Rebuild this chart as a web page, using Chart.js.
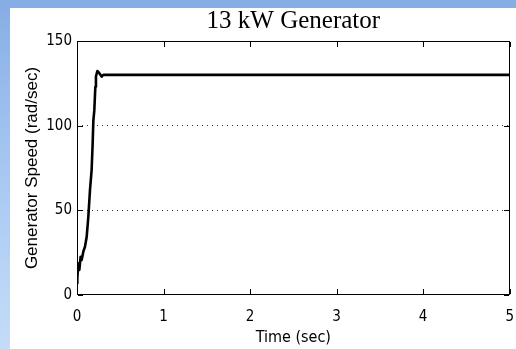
<!DOCTYPE html>
<html>
<head>
<meta charset="utf-8">
<title>13 kW Generator</title>
<script src="https://cdn.jsdelivr.net/npm/chart.js@4.4.0/dist/chart.umd.min.js"></script>
<style>
  html, body { margin: 0; padding: 0; }
  body {
    width: 516px; height: 349px; overflow: hidden; position: relative;
    background: linear-gradient(180deg, #86ade4 0%, #97bbec 25%, #aecdf4 60%, #c4dcf8 100%);
  }
  #panel {
    position: absolute; left: 10px; top: 8px;
    width: 506px; height: 341px; background: #fff;
  }
  canvas { display: block; }
</style>
</head>
<body>
<div id="panel"><canvas id="speed" width="509" height="341"></canvas></div>
<script>
'use strict';

// Generator speed run-up, time in seconds and speed in rad/sec
const timeSec = [0, 0.004, 0.015, 0.027, 0.042, 0.054, 0.073, 0.092, 0.112, 0.131,
                 0.150, 0.169, 0.181, 0.189, 0.200, 0.212, 0.219, 0.235, 0.258, 0.285,
                 0.304, 5.0];
const speedRad = [7, 10, 18.7, 14.8, 22.6, 20.7, 25.6, 28.5, 34.4, 46.2,
                  62, 73.8, 89.6, 103, 109, 123, 129, 132.3, 131, 129,
                  130, 130];

const xTicks = [0, 1, 2, 3, 4, 5];
const yTicks = [0, 50, 100, 150];

const tickFont = { family: "'Liberation Sans Narrow', 'DejaVu Sans Condensed', sans-serif", size: 15 };

// box round the plot with short inward tick marks on all four sides
const matlabFrame = {
  id: 'matlabFrame',
  afterDatasetsDraw(chart) {
    const { ctx, chartArea: a, scales } = chart;
    const L = Math.round(a.left), R = Math.round(a.right) - 1;
    const T = Math.round(a.top), B = Math.round(a.bottom) - 1;
    const len = 5;
    ctx.save();
    ctx.fillStyle = '#000';
    ctx.fillRect(L, T, R - L + 1, 1);
    ctx.fillRect(L, B, R - L + 1, 1);
    ctx.fillRect(L, T, 1, B - T + 1);
    ctx.fillRect(R, T, 1, B - T + 1);
    xTicks.forEach(v => {
      const x = Math.round(scales.x.getPixelForValue(v));
      ctx.fillRect(x, B - len, 1, len);
      ctx.fillRect(x, T + 1, 1, len);
    });
    yTicks.forEach(v => {
      const y = Math.round(scales.y.getPixelForValue(v));
      ctx.fillRect(L + 1, y, len, 1);
      ctx.fillRect(R - len, y, len, 1);
    });
    ctx.restore();
  }
};

new Chart(document.getElementById('speed'), {
  type: 'line',
  data: {
    datasets: [{
      data: timeSec.map((t, i) => ({ x: t, y: speedRad[i] })),
      borderColor: '#000',
      borderWidth: 2.6,
      borderJoinStyle: 'round',
      pointRadius: 0,
      tension: 0,
      fill: false
    }]
  },
  options: {
    responsive: false,
    animation: false,
    layout: { padding: { left: 0, right: 6, top: 0, bottom: 0 } },
    plugins: {
      legend: { display: false },
      tooltip: { enabled: false },
      title: {
        display: true,
        text: '13 kW Generator',
        fullSize: false,
        color: '#000',
        font: { family: "'Liberation Serif', 'Times New Roman', serif", size: 25, weight: 'normal', lineHeight: 1 },
        padding: { top: 1, bottom: 7 }
      }
    },
    scales: {
      x: {
        type: 'linear',
        min: 0, max: 5,
        afterFit: s => { s.height = 54; },
        afterBuildTicks: s => { s.ticks = xTicks.map(v => ({ value: v })); },
        ticks: { color: '#000', font: tickFont, padding: 5, maxRotation: 0 },
        grid: { display: false },
        border: { display: false },
        title: {
          display: true, text: 'Time (sec)', color: '#000',
          font: { family: tickFont.family, size: 16 },
          padding: { top: 0, bottom: 2 }
        }
      },
      y: {
        min: 0, max: 150,
        afterFit: s => { s.width = 67; },
        afterBuildTicks: s => { s.ticks = yTicks.map(v => ({ value: v })); },
        ticks: { color: '#000', font: tickFont, padding: 5 },
        grid: {
          drawTicks: false,
          lineWidth: 1,
          color: c => (c.tick && (c.tick.value === 50 || c.tick.value === 100)) ? '#333' : 'rgba(0,0,0,0)'
        },
        border: { display: false, dash: [1, 4] },
        title: {
          display: true, text: 'Generator Speed (rad/sec)', color: '#000',
          font: { family: "'Liberation Sans', Arial, sans-serif", size: 17 },
          padding: { top: 12, bottom: 0 }
        }
      }
    }
  },
  plugins: [matlabFrame]
});
</script>
</body>
</html>
